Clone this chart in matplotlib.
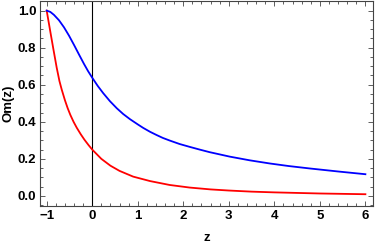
import matplotlib
matplotlib.use("Agg")
import matplotlib.pyplot as plt
from matplotlib.ticker import MultipleLocator, FormatStrFormatter, FuncFormatter

# values
z_blue = [-1.0, -0.92, -0.84, -0.73, -0.62, -0.51, -0.40, -0.29, -0.18, -0.09, 0.0, 0.12, 0.24,
          0.39, 0.54, 0.68, 0.83, 1.0, 1.12, 1.27, 1.41, 1.55, 1.70, 1.92, 2.15, 2.36, 2.58, 2.8,
          3.02, 3.46, 3.9, 4.32, 4.78, 5.43, 6.0]
om_blue = [1.0, 0.993, 0.977, 0.948, 0.91, 0.865, 0.815, 0.763, 0.712, 0.673, 0.638, 0.594, 0.555,
           0.511, 0.473, 0.442, 0.414, 0.386, 0.367, 0.346, 0.329, 0.313, 0.299, 0.28, 0.264, 0.25,
           0.236, 0.224, 0.212, 0.192, 0.175, 0.161, 0.148, 0.131, 0.117]

z_red = [-1.0, -0.96, -0.91, -0.85, -0.78, -0.72, -0.67, -0.6, -0.54, -0.48, -0.41, -0.34, -0.25,
         -0.17, -0.08, 0.0, 0.2, 0.4, 0.6, 0.9, 1.27, 1.7, 2.14, 2.6, 3.0, 3.5, 4.0, 5.0, 6.0]
om_red = [1.0, 0.943, 0.872, 0.788, 0.692, 0.62, 0.574, 0.517, 0.474, 0.437, 0.4, 0.368, 0.332,
          0.303, 0.274, 0.25, 0.2, 0.163, 0.135, 0.104, 0.08, 0.059, 0.045, 0.035, 0.029, 0.023,
          0.019, 0.013, 0.009]

plt.rcParams['font.family'] = ['Liberation Sans', 'DejaVu Sans']

fig = plt.figure(figsize=(3.75, 2.46), dpi=100)
ax = fig.add_axes([0.1075, 0.163, 0.8875, 0.833])

ax.axvline(0, color="black", lw=0.8)
ax.plot(z_red, om_red, color=(1, 0, 0), lw=1.3)
ax.plot(z_blue, om_blue, color=(0, 0, 1), lw=1.3)

ax.set_xlim(-1.14, 6.17)
ax.set_ylim(-0.054, 1.052)
ax.xaxis.set_major_locator(MultipleLocator(1))
ax.xaxis.set_minor_locator(MultipleLocator(0.2))
ax.yaxis.set_major_locator(MultipleLocator(0.2))
ax.yaxis.set_minor_locator(MultipleLocator(0.05))
ax.yaxis.set_major_formatter(FormatStrFormatter("%.1f"))
ax.xaxis.set_major_formatter(FuncFormatter(lambda v, p: "\u2212%d" % -v if v < 0 else "%d" % v))

ax.tick_params(which="both", direction="in", top=True, right=True, color="#444444",
               labelsize=9.5, pad=3, width=0.6)
ax.tick_params(which="major", length=3.5)
ax.tick_params(which="minor", length=2)
for lbl in ax.get_xticklabels() + ax.get_yticklabels():
    lbl.set_fontweight("bold")
for s in ax.spines.values():
    s.set_color("#444444")
    s.set_linewidth(0.8)

ax.set_xlabel("z", fontsize=9.5, fontweight="bold", labelpad=7)
ax.set_ylabel("Om(z)", fontsize=9.5, fontweight="bold", labelpad=2)

fig.savefig("out.png", dpi=100)
